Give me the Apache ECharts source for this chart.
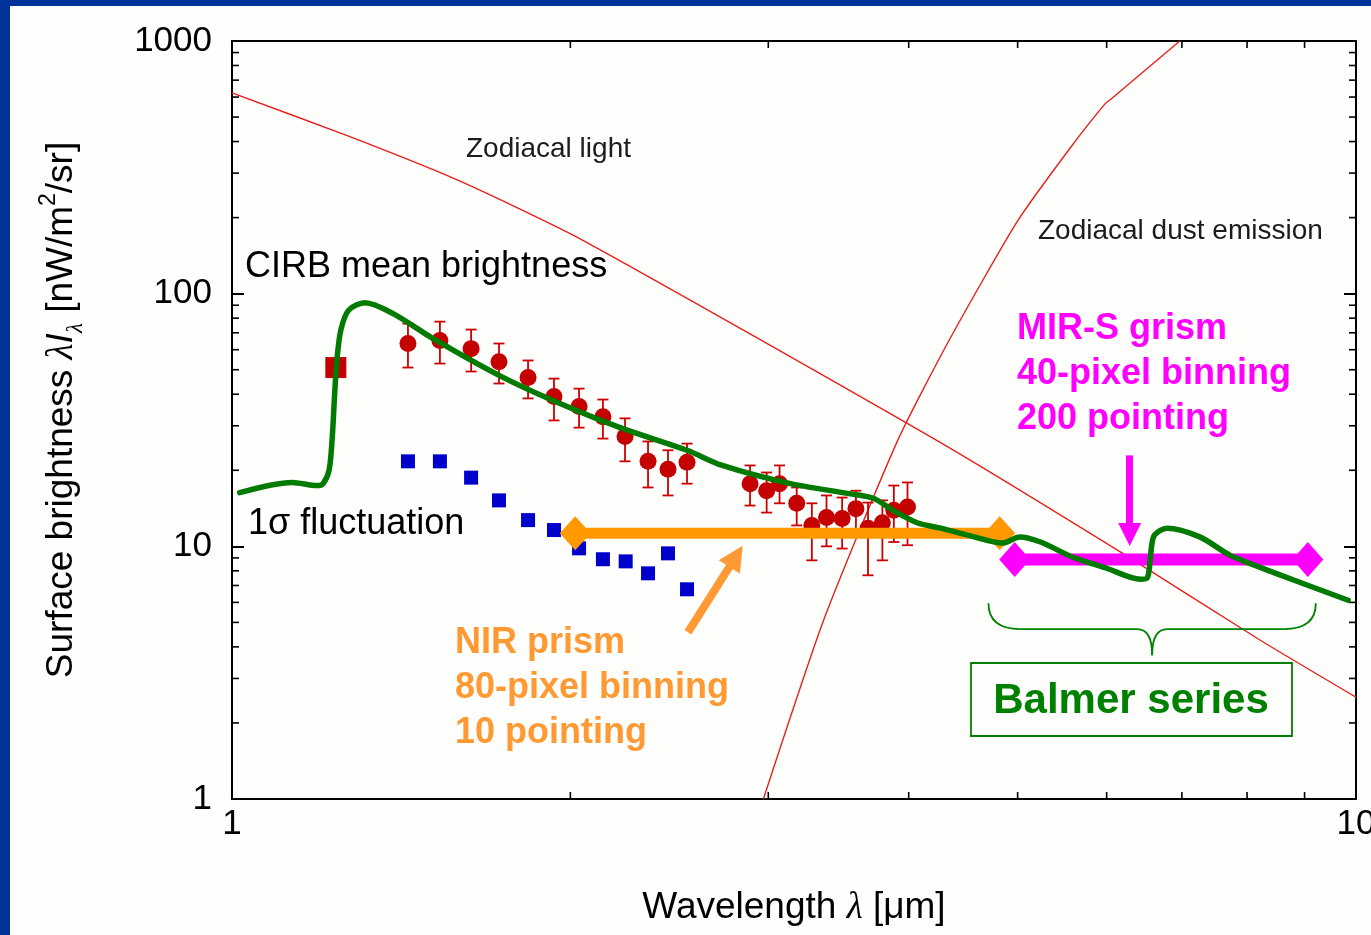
<!DOCTYPE html>
<html>
<head>
<meta charset="utf-8">
<script src="https://cdn.jsdelivr.net/npm/echarts@6/dist/echarts.min.js"></script>
<style>
  html, body { margin: 0; padding: 0; width: 1371px; height: 935px; overflow: hidden; background: #003399; }
  #chart { position: absolute; left: 10px; top: 6px; width: 1361px; height: 929px; background: #fefefd; }
</style>
</head>
<body>
<div id="chart"></div>
<script>
// Wavelength in µm, surface brightness λIλ in nW/m²/sr

// Zodiacal light (scattered sunlight)
const zodiLight = [[1.0, 623], [1.268, 421], [1.592, 280], [2.05, 163], [4.24, 26.2], [6.2, 9.38], [8.22, 4.25], [10, 2.53]];

// Zodiacal dust thermal emission
const zodiDust = [[2.97, 1.0], [3.36, 5.1], [3.91, 26.2], [4.35, 66], [5.0, 194], [5.57, 378], [5.98, 564], [6.07, 595], [6.97, 1000]];

// CIRB mean brightness model spectrum
const cirbModel = [
  [1.016, 16.3], [1.131, 17.9], [1.19, 17.4], [1.205, 17.7], [1.22, 20], [1.228, 27], [1.234, 40],
  [1.24, 55], [1.25, 72], [1.27, 86], [1.313, 92.1], [1.391, 83.4], [1.51, 66.4], [1.73, 47.4],
  [1.93, 37.8], [2.215, 29.5], [2.54, 24.0], [2.73, 20.9], [3.14, 17.7], [3.53, 16.2], [3.72, 15.5],
  [3.87, 13.9], [4.07, 12.4], [4.27, 11.8], [4.54, 11.0], [4.85, 10.3], [5.02, 10.9], [5.24, 10.4],
  [5.60, 9.05], [6.00, 8.19], [6.43, 7.41], [6.52, 7.5], [6.56, 8.8], [6.58, 10.1], [6.62, 11.1],
  [6.79, 11.8], [7.26, 10.9], [7.73, 9.21], [8.44, 7.89], [9.84, 6.12]
];

// CIRB measurements: [wavelength, value, lower, upper]
const cirbPoints = [
  [1.434, 63.5, 51.0, 76.1], [1.531, 65.2, 52.9, 77.5], [1.632, 60.6, 49.2, 72.1], [1.728, 53.8, 44.1, 63.5],
  [1.834, 46.6, 38.5, 54.4], [1.934, 39.2, 31.5, 46.1], [2.036, 35.8, 29.5, 42.1], [2.138, 32.6, 26.7, 38.1],
  [2.237, 27.2, 21.7, 32.1], [2.345, 21.7, 17.1, 26.0], [2.443, 20.2, 15.9, 24.0], [2.54, 21.5, 17.7, 25.5],
  [2.89, 17.7, 14.5, 20.9], [2.99, 16.6, 13.6, 19.6], [3.07, 17.7, 14.8, 20.9], [3.18, 14.8, 12.1, 17.1],
  [3.28, 12.1, 8.8, 14.8], [3.38, 13.0, 10.0, 15.9], [3.49, 12.9, 9.8, 15.6], [3.59, 14.1, 11.6, 16.6],
  [3.68, 11.8, 7.68, 14.9], [3.79, 12.4, 8.8, 15.2], [3.88, 13.9, 10.4, 17.4], [3.99, 14.3, 10.1, 17.9]
];

// Broad-band point at 1.24 µm
const jBandPoint = [[1.237, 51.0]];

// 1σ fluctuation
const fluctuation = [
  [1.434, 21.7], [1.531, 21.7], [1.632, 18.7], [1.728, 15.2], [1.834, 12.7], [1.934, 11.6],
  [2.036, 9.82], [2.138, 8.89], [2.24, 8.72], [2.345, 7.82], [2.443, 9.38], [2.54, 6.76]
];

// Spectral coverage / sensitivity of the two instrument modes
const nirPrism = [[2.02, 11.26], [4.82, 11.26]];
const mirGrism = [[4.97, 8.87], [9.06, 8.87]];

// Pointer arrows: [tail, head]
const nirArrow = [[2.545, 4.57], [2.808, 9.13]];
const mirArrow = [[6.29, 22.9], [6.29, 11.15]];

// Balmer brace: [λ start, λ end, top, middle, tip]
const balmerBrace = [[4.71, 9.21, 5.95, 4.70, 3.71]];

// Minor tick positions
const xMinorTicks = [2, 3, 4, 5, 6, 7, 8, 9];
const yMinorTicks = [2, 3, 4, 5, 6, 7, 8, 9, 20, 30, 40, 50, 60, 70, 80, 90, 200, 300, 400, 500, 600, 700, 800, 900];

const FONT = '"Liberation Sans", Arial, sans-serif';
const chart = echarts.init(document.getElementById('chart'), null, { renderer: 'canvas' });

function yMinorTick(params, api) {
  const cs = params.coordSys;
  const y = api.coord([1, api.value(1)])[1];
  const L = 7, st = { stroke: '#000', lineWidth: 1.6 };
  return { type: 'group', children: [
    { type: 'line', shape: { x1: cs.x, y1: y, x2: cs.x + L, y2: y }, style: st },
    { type: 'line', shape: { x1: cs.x + cs.width - L, y1: y, x2: cs.x + cs.width, y2: y }, style: st }
  ]};
}
function xMinorTick(params, api) {
  const cs = params.coordSys;
  const x = api.coord([api.value(0), 1])[0];
  const L = 7, st = { stroke: '#000', lineWidth: 1.6 };
  return { type: 'group', children: [
    { type: 'line', shape: { x1: x, y1: cs.y + cs.height, x2: x, y2: cs.y + cs.height - L }, style: st },
    { type: 'line', shape: { x1: x, y1: cs.y, x2: x, y2: cs.y + L }, style: st }
  ]};
}
function errorBar(params, api) {
  const x = api.coord([api.value(0), api.value(2)])[0];
  const lo = api.coord([api.value(0), api.value(2)])[1];
  const hi = api.coord([api.value(0), api.value(3)])[1];
  const w = 5.5, st = { stroke: '#cc0000', lineWidth: 1.8 };
  return { type: 'group', children: [
    { type: 'line', shape: { x1: x, y1: lo, x2: x, y2: hi }, style: st },
    { type: 'line', shape: { x1: x - w, y1: lo, x2: x + w, y2: lo }, style: st },
    { type: 'line', shape: { x1: x - w, y1: hi, x2: x + w, y2: hi }, style: st }
  ]};
}
function brace(params, api) {
  const a = api.coord([api.value(0), api.value(2)]);
  const b = api.coord([api.value(1), api.value(2)]);
  const m = api.coord([api.value(0), api.value(3)])[1];
  const t = api.coord([api.value(0), api.value(4)])[1];
  const xc = (a[0] + b[0]) / 2, r = 32, r2 = 15;
  const st = { stroke: '#008000', lineWidth: 1.8, fill: null };
  return { type: 'group', children: [
    { type: 'bezierCurve', shape: { x1: a[0], y1: a[1], cpx1: a[0], cpy1: m, x2: a[0] + r, y2: m }, style: st },
    { type: 'line', shape: { x1: a[0] + r, y1: m, x2: xc - r2, y2: m }, style: st },
    { type: 'bezierCurve', shape: { x1: xc - r2, y1: m, cpx1: xc, cpy1: m, x2: xc, y2: t }, style: st },
    { type: 'bezierCurve', shape: { x1: xc, y1: t, cpx1: xc, cpy1: m, x2: xc + r2, y2: m }, style: st },
    { type: 'line', shape: { x1: xc + r2, y1: m, x2: b[0] - r, y2: m }, style: st },
    { type: 'bezierCurve', shape: { x1: b[0] - r, y1: m, cpx1: b[0], cpy1: m, x2: b[0], y2: b[1] }, style: st }
  ]};
}

const axisLine = { show: true, lineStyle: { color: '#000', width: 2 } };
const option = {
  animation: false,
  backgroundColor: 'transparent',
  grid: { left: 222, top: 35, width: 1124, height: 758, containLabel: false, outerBoundsMode: 'none' },
  xAxis: [
    { type: 'log', logBase: 10, min: 1, max: 10, position: 'bottom',
      axisLine, splitLine: { show: false },
      axisTick: { inside: true, length: 12, lineStyle: { color: '#000', width: 2 } },
      axisLabel: { fontSize: 35, color: '#000', fontFamily: FONT, margin: 8, formatter: v => String(Math.round(v)) } },
    { type: 'log', logBase: 10, min: 1, max: 10, position: 'top',
      axisLine, splitLine: { show: false }, axisTick: { show: false }, axisLabel: { show: false } }
  ],
  yAxis: [
    { type: 'log', logBase: 10, min: 1, max: 1000, position: 'left',
      axisLine, splitLine: { show: false },
      axisTick: { inside: true, length: 12, lineStyle: { color: '#000', width: 2 } },
      axisLabel: { fontSize: 35, color: '#000', fontFamily: FONT, margin: 20, formatter: v => String(Math.round(v)) } },
    { type: 'log', logBase: 10, min: 1, max: 1000, position: 'right',
      axisLine, splitLine: { show: false },
      axisTick: { inside: true, length: 12, lineStyle: { color: '#000', width: 2 } },
      axisLabel: { show: false } }
  ],
  series: [
    { type: 'custom', name: 'yMinor', renderItem: yMinorTick, data: yMinorTicks.map(v => [1, v]), silent: true, z: 1 },
    { type: 'custom', name: 'xMinor', renderItem: xMinorTick, data: xMinorTicks.map(v => [v, 1]), silent: true, z: 1 },
    { type: 'line', name: 'Zodiacal light', data: zodiLight, showSymbol: false, symbol: 'none', smooth: 0.2,
      lineStyle: { color: '#e8201c', width: 1.4 }, z: 2 },
    { type: 'line', name: 'Zodiacal dust emission', data: zodiDust, showSymbol: false, symbol: 'none', smooth: 0.2,
      lineStyle: { color: '#e8201c', width: 1.4 }, z: 2 },
    { type: 'custom', name: 'errors', renderItem: errorBar, data: cirbPoints, encode: { x: 0, y: [2, 3] }, z: 3 },
    { type: 'scatter', name: 'CIRB', data: cirbPoints.map(p => [p[0], p[1]]), symbol: 'circle', symbolSize: 17,
      itemStyle: { color: '#c40000', opacity: 1 }, z: 3 },
    { type: 'scatter', name: 'J band', data: jBandPoint, symbol: 'rect', symbolSize: 21,
      itemStyle: { color: '#c40000', opacity: 1 }, z: 3 },
    { type: 'scatter', name: '1σ fluctuation', data: fluctuation, symbol: 'rect', symbolSize: 14,
      itemStyle: { color: '#0000cc', opacity: 1 }, z: 3 },
    { type: 'line', name: 'NIR prism', data: nirPrism, symbol: 'diamond', symbolSize: [31, 34], showSymbol: true,
      lineStyle: { color: '#ff9900', width: 11 }, itemStyle: { color: '#ff9900' }, z: 4,
      markLine: { silent: true, symbol: ['none', 'triangle'], symbolSize: 25, label: { show: false },
        lineStyle: { color: '#ff9933', width: 8, type: 'solid' },
        data: [[{ coord: nirArrow[0] }, { coord: nirArrow[1] }]] } },
    { type: 'line', name: 'MIR-S grism', data: mirGrism, symbol: 'diamond', symbolSize: [31, 35], showSymbol: true,
      lineStyle: { color: '#ff00ff', width: 12 }, itemStyle: { color: '#ff00ff' }, z: 5,
      markLine: { silent: true, symbol: ['none', 'triangle'], symbolSize: 23, label: { show: false },
        lineStyle: { color: '#ff00ff', width: 7, type: 'solid' },
        data: [[{ coord: mirArrow[0] }, { coord: mirArrow[1] }]] } },
    { type: 'line', name: 'CIRB model', data: cirbModel, symbol: 'none', showSymbol: false, smooth: 0.3,
      lineStyle: { color: '#007a00', width: 5.5, join: 'round', cap: 'round' }, z: 6 },
    { type: 'custom', name: 'brace', renderItem: brace, data: balmerBrace, encode: { x: [0, 1], y: [2, 3, 4] }, z: 6 }
  ],
  graphic: [
    { type: 'text', x: 456, y: 143, style: { text: 'Zodiacal light', fontSize: 28, fontFamily: FONT, fill: '#1c1c1c', align: 'left', verticalAlign: 'middle' } },
    { type: 'text', x: 1028, y: 225, style: { text: 'Zodiacal dust emission', fontSize: 28, fontFamily: FONT, fill: '#1c1c1c', align: 'left', verticalAlign: 'middle' } },
    { type: 'text', x: 235, y: 261, style: { text: 'CIRB mean brightness', fontSize: 36, fontFamily: FONT, fill: '#000', align: 'left', verticalAlign: 'middle' } },
    { type: 'text', x: 238, y: 518, style: { text: '1σ fluctuation', fontSize: 36, fontFamily: FONT, fill: '#000', align: 'left', verticalAlign: 'middle' } },
    { type: 'text', x: 445, y: 682, style: { text: 'NIR prism\n80-pixel binning\n10 pointing', fontSize: 36, lineHeight: 45, fontWeight: 'bold', fontFamily: FONT, fill: '#ff9933', align: 'left', verticalAlign: 'middle' } },
    { type: 'text', x: 1007, y: 368, style: { text: 'MIR-S grism\n40-pixel binning\n200 pointing', fontSize: 36, lineHeight: 45, fontWeight: 'bold', fontFamily: FONT, fill: '#ff00ff', align: 'left', verticalAlign: 'middle' } },
    { type: 'rect', shape: { x: 961, y: 657, width: 321, height: 73 }, style: { fill: '#fefefd', stroke: '#008000', lineWidth: 1.8 }, z: 10 },
    { type: 'text', x: 1121, y: 695, z: 11, style: { text: 'Balmer series', fontSize: 42, fontWeight: 'bold', fontFamily: FONT, fill: '#008000', align: 'center', verticalAlign: 'middle' } },
    { type: 'text', x: 784, y: 902, style: {
        text: '{t|Wavelength }{l|λ}{t| [μm]}', align: 'center', verticalAlign: 'middle',
        rich: { t: { fontSize: 37, fontFamily: FONT, fill: '#000' },
                l: { fontSize: 37, fontFamily: '"Liberation Serif", serif', fontStyle: 'italic', fill: '#000' } } } },
    { type: 'text', x: 52, y: 404, rotation: Math.PI / 2, style: {
        text: '{t|Surface brightness }{l|λ}{i|I}{s|λ}{t| [nW/m}{p|2}{t|/sr]}', align: 'center', verticalAlign: 'middle',
        rich: {
          t: { fontSize: 37, fontFamily: FONT, fill: '#000', lineHeight: 50 },
          l: { fontSize: 37, fontFamily: '"Liberation Serif", serif', fontStyle: 'italic', fill: '#000', lineHeight: 50 },
          i: { fontSize: 37, fontFamily: FONT, fontStyle: 'italic', fill: '#000', lineHeight: 50 },
          s: { fontSize: 23, fontFamily: '"Liberation Serif", serif', fontStyle: 'italic', fill: '#000', lineHeight: 25, verticalAlign: 'bottom' },
          p: { fontSize: 23, fontFamily: FONT, fill: '#000', lineHeight: 25, verticalAlign: 'top' }
        } } }
  ]
};
chart.setOption(option);
</script>
</body>
</html>
